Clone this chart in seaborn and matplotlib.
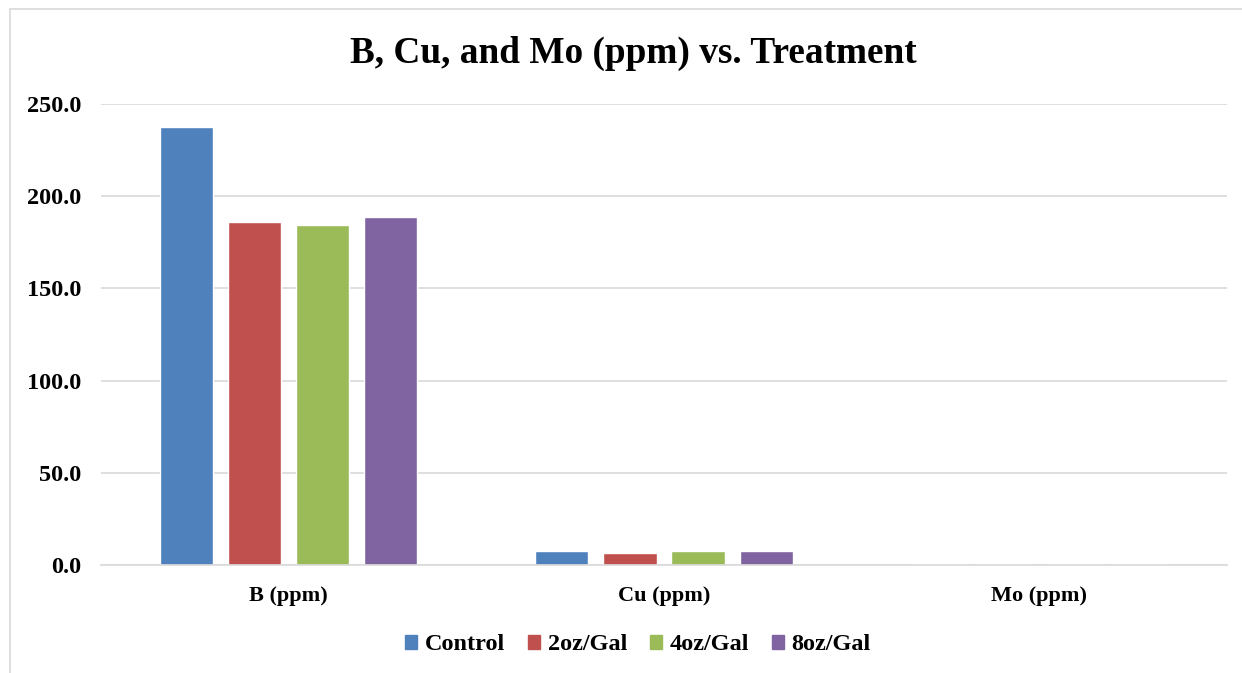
import matplotlib
matplotlib.use("Agg")
import matplotlib.pyplot as plt
import seaborn as sns
import pandas as pd
from matplotlib.patches import Rectangle

nutrients = ["B (ppm)", "Cu (ppm)", "Mo (ppm)"]
treatments = ["Control", "2oz/Gal", "4oz/Gal", "8oz/Gal"]
control = [237.5, 7.6, 0.3]
oz2 = [186.0, 6.3, 0.3]
oz4 = [184.4, 7.4, 0.3]
oz8 = [188.7, 7.6, 0.3]
colors = ["#4F81BD", "#C0504D", "#9BBB59", "#8064A2"]
yticks = [0, 50, 100, 150, 200, 250]

rows = []
for t, vals in zip(treatments, [control, oz2, oz4, oz8]):
    for n, v in zip(nutrients, vals):
        rows.append({"Nutrient": n, "Treatment": t, "Value": v})
df = pd.DataFrame(rows)

sns.set_theme(style="white")
plt.rcParams["font.family"] = ["Liberation Serif", "DejaVu Serif"]
plt.rcParams["font.weight"] = "bold"
plt.rcParams["text.color"] = "black"
plt.rcParams["xtick.color"] = "black"
plt.rcParams["ytick.color"] = "black"

fig = plt.figure(figsize=(12.42, 6.73), dpi=100)
ax = fig.add_axes([101 / 1242, 1 - 565 / 673, 1126 / 1242, 461 / 673])

sns.barplot(data=df, x="Nutrient", y="Value", hue="Treatment",
            order=nutrients, hue_order=treatments, palette=colors,
            width=0.725, gap=0.22, saturation=1, ax=ax, legend=False)

ax.set_xlim(-0.5, 2.5)
ax.set_ylim(0, 250)
ax.set_yticks(yticks)
ax.set_yticklabels([f"{v:.1f}" for v in yticks], fontsize=17.5, fontweight="bold")
ax.tick_params(axis="x", labelsize=16, pad=15, labelcolor="black")
for lab in ax.get_xticklabels():
    lab.set_fontweight("bold")
ax.tick_params(axis="both", length=0)
ax.tick_params(axis="y", pad=14, labelcolor="black")
ax.set_xlabel("")
ax.set_ylabel("")
ax.yaxis.grid(True, color="#D9D9D9", linewidth=1.2)
ax.set_axisbelow(True)
for s in ["left", "right", "top"]:
    ax.spines[s].set_visible(False)
ax.spines["bottom"].set_color("#D9D9D9")
ax.spines["bottom"].set_linewidth(1.2)

fig.text(633 / 1242, 1 - 53 / 673, "B, Cu, and Mo (ppm) vs. Treatment",
         ha="center", va="center", fontsize=26.8, fontweight="bold", color="black")

handles = [Rectangle((0, 0), 1, 1, color=c) for c in colors]
fig.legend(handles, treatments, loc="center", bbox_to_anchor=(638 / 1242, 1 - 645 / 673),
           ncol=4, frameon=False, handlelength=0.5, handleheight=0.5,
           handletextpad=0.3, columnspacing=0.95, labelcolor="black",
           prop={"weight": "bold", "size": 17.5})

fig.patches.append(Rectangle((10 / 1242, -0.05), 1.0, 1.05 - 9 / 673,
                             transform=fig.transFigure, fill=False,
                             edgecolor="#D9D9D9", linewidth=1.2))

fig.savefig("out.png", dpi=100)
